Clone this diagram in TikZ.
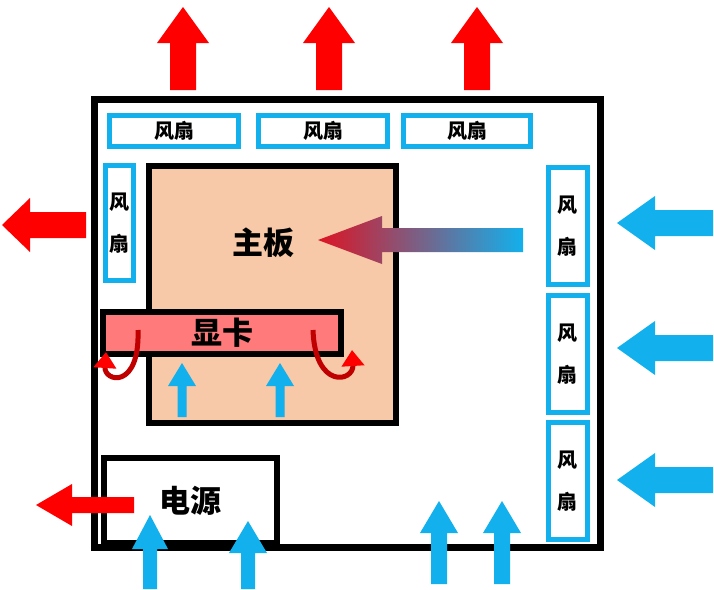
\documentclass[tikz,border=0pt]{standalone}
\usepackage{fontspec}
\newfontfamily\cjk{Noto Sans CJK SC}
\usetikzlibrary{arrows.meta}
\definecolor{fanblue}{HTML}{12B0EC}
\definecolor{hotred}{HTML}{FF0000}
\definecolor{tipred}{HTML}{DD1424}
\definecolor{boardpeach}{HTML}{F7C9A8}
\definecolor{cardred}{HTML}{FF7A7A}
\definecolor{curlred}{HTML}{C00000}

\begin{document}
\begin{tikzpicture}[x=1pt,y=-1pt,
  fan/.style={draw=fanblue,line width=5pt,fill=white,inner sep=0pt,align=center,
    font=\cjk\bfseries\fontsize{20}{42}\selectfont},
  part/.style={draw=black,line width=6pt,inner sep=0pt},
  big/.style={font=\cjk\bfseries\fontsize{31}{31}\selectfont},
  curl/.style={draw=curlred,line width=5pt,-{Triangle[length=16pt,width=22pt,color=hotred]}},
  pics/blockarrow/.style n args={4}{code={
    \path[pic actions] (0,-#2) -- (#1-#4,-#2) -- (#1-#4,-#3) -- (#1,0)
      -- (#1-#4,#3) -- (#1-#4,#2) -- (0,#2) -- cycle;}},
  hot/.style={fill=hotred},
  cool/.style={fill=fanblue}]
  \useasboundingbox (0,0) rectangle (714,589);

  % case and fans
  \node (case) [part,line width=7pt,fill=white,minimum width=506pt,minimum height=448pt] at (347.5,323.5) {};
  \node (fanT1) [fan,minimum width=129pt,minimum height=31pt] at (174,131) {风扇};
  \node (fanT2) [fan,minimum width=129pt,minimum height=31pt] at (323,131) {风扇};
  \node (fanT3) [fan,minimum width=127pt,minimum height=31pt] at (467,131) {风扇};
  \node (fanL)  [fan,minimum width=28pt,minimum height=115pt] at (119.5,223) {风\\扇};
  \node (fanR1) [fan,minimum width=39pt,minimum height=117pt] at (567.5,226) {风\\扇};
  \node (fanR2) [fan,minimum width=39pt,minimum height=117pt] at (567.5,354) {风\\扇};
  \node (fanR3) [fan,minimum width=39pt,minimum height=117pt] at (567.5,481) {风\\扇};

  % board, card, power supply
  \node (board) [part,fill=boardpeach,minimum width=247pt,minimum height=257pt] at (272.5,294.5) {};
  \node (boardtxt) [big] at (263,243) {主板};
  \node (card) [part,big,fill=cardred,minimum width=238pt,minimum height=42pt] at (222,333) {显卡};
  \draw[curl] (138,330) .. controls (140,390) and (104,382) .. (106,352);
  \draw[curl] (313,330) .. controls (315,390) and (354,382) .. (352,350);
  \node (psu) [part,big,fill=white,minimum width=173pt,minimum height=85pt] at (190.5,500.5) {电源};

  % air flow
  \foreach \x in {183,329,477}
    \pic[hot,rotate=90] at (\x,90) {blockarrow={83}{13}{26}{36}};
  \pic[hot,rotate=180] at (86,225) {blockarrow={84}{13}{27}{28}};
  \pic[hot,rotate=180] at (134,505) {blockarrow={98}{8}{21}{36}};
  \foreach \y in {223,348,480}
    \pic[cool,rotate=180] at (713,\y) {blockarrow={96}{13}{27}{38}};
  \pic[left color=tipred,right color=fanblue,rotate=180] at (523,240) {blockarrow={205}{12}{24}{64}};
  \foreach \x in {182,280}
    \pic[cool,rotate=90] at (\x,417) {blockarrow={54}{4.5}{14}{23}};
  \pic[cool,rotate=90] at (150,589) {blockarrow={74}{7}{18}{34}};
  \pic[cool,rotate=90] at (248,589) {blockarrow={68}{7}{19}{32}};
  \foreach \x in {439,502}
    \pic[cool,rotate=90] at (\x,584) {blockarrow={83}{8}{19}{32}};
\end{tikzpicture}
\end{document}
